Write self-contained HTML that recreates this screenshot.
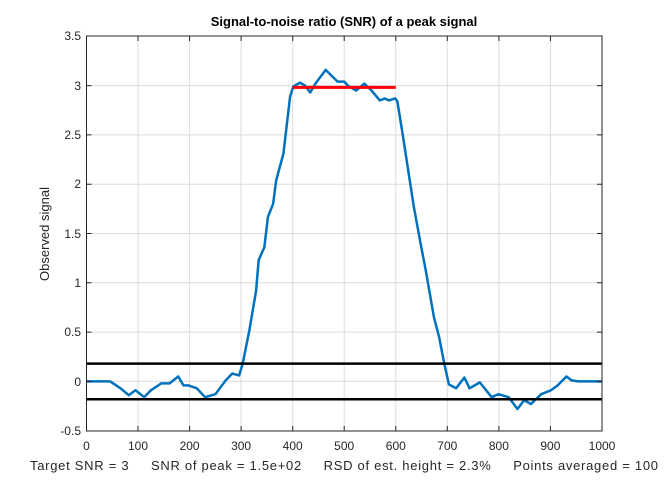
<!DOCTYPE html>
<html><head><style>body{margin:0;background:#fff}svg{display:block}</style></head><body>
<svg width="665" height="484" xmlns="http://www.w3.org/2000/svg" font-family="Liberation Sans, Arial, sans-serif">
<rect width="665" height="484" fill="#fff"/>
<g stroke="#dcdcdc" stroke-width="1">
<line x1="138" y1="36" x2="138" y2="431"/><line x1="189.6" y1="36" x2="189.6" y2="431"/><line x1="241.1" y1="36" x2="241.1" y2="431"/><line x1="292.7" y1="36" x2="292.7" y2="431"/><line x1="344.2" y1="36" x2="344.2" y2="431"/><line x1="395.8" y1="36" x2="395.8" y2="431"/><line x1="447.3" y1="36" x2="447.3" y2="431"/><line x1="498.9" y1="36" x2="498.9" y2="431"/><line x1="550.4" y1="36" x2="550.4" y2="431"/>
<line x1="86.5" y1="85.6" x2="602" y2="85.6"/><line x1="86.5" y1="134.9" x2="602" y2="134.9"/><line x1="86.5" y1="184.2" x2="602" y2="184.2"/><line x1="86.5" y1="233.5" x2="602" y2="233.5"/><line x1="86.5" y1="282.8" x2="602" y2="282.8"/><line x1="86.5" y1="332.1" x2="602" y2="332.1"/><line x1="86.5" y1="381.4" x2="602" y2="381.4"/>
</g>
<g transform="translate(86.5,381.4) scale(0.5155,-98.6)" fill="none" stroke-linejoin="round">
<polyline vector-effect="non-scaling-stroke" stroke="#0072bd" stroke-width="2.5" points="0,0 46,0 66,-0.07 82,-0.14 95,-0.09 112,-0.16 125,-0.09 145,-0.02 161,-0.02 178,0.05 188,-0.04 197,-0.04 214,-0.07 230,-0.16 250,-0.13 270,0.01 283,0.08 296,0.06 303,0.18 316,0.52 329,0.92 334,1.23 345,1.36 352,1.67 362,1.8 368,2.04 382,2.31 395,2.89 401,2.99 414,3.03 424,3 434,2.93 444,3.02 464,3.16 487,3.04 500,3.04 507,3 523,2.95 539,3.02 553,2.95 569,2.85 579,2.87 586,2.85 599,2.87 603,2.84 612,2.55 622,2.21 635,1.77 648,1.4 658,1.13 674,0.65 684,0.45 694,0.18 703,-0.03 717,-0.07 733,0.04 743,-0.07 763,-0.01 786,-0.16 799,-0.13 819,-0.16 836,-0.28 849,-0.19 862,-0.23 882,-0.13 901,-0.09 914,-0.04 931,0.05 941,0.01 954,0 1000,0"/>
</g>
<line x1="292.7" y1="87.4" x2="395.8" y2="87.4" stroke="#ff0000" stroke-width="3"/>
<line x1="86.5" y1="363.6" x2="602" y2="363.6" stroke="#000" stroke-width="2.5"/>
<line x1="86.5" y1="399.2" x2="602" y2="399.2" stroke="#000" stroke-width="2.5"/>
<rect x="86.5" y="36" width="515.5" height="395" fill="none" stroke="#262626" stroke-width="1"/>
<g stroke="#262626" stroke-width="1">
<path d="M138 431v-5M189.6 431v-5M241.1 431v-5M292.7 431v-5M344.2 431v-5M395.8 431v-5M447.3 431v-5M498.9 431v-5M550.4 431v-5M138 36v5M189.6 36v5M241.1 36v5M292.7 36v5M344.2 36v5M395.8 36v5M447.3 36v5M498.9 36v5M550.4 36v5"/>
<path d="M86.5 85.6h5M86.5 134.9h5M86.5 184.2h5M86.5 233.5h5M86.5 282.8h5M86.5 332.1h5M86.5 381.4h5M602 85.6h-5M602 134.9h-5M602 184.2h-5M602 233.5h-5M602 282.8h-5M602 332.1h-5M602 381.4h-5"/>
</g>
<g font-size="12" fill="#262626" text-anchor="middle">
<text x="86.5" y="450">0</text><text x="138" y="450">100</text><text x="189.6" y="450">200</text><text x="241.1" y="450">300</text><text x="292.7" y="450">400</text><text x="344.2" y="450">500</text><text x="395.8" y="450">600</text><text x="447.3" y="450">700</text><text x="498.9" y="450">800</text><text x="550.4" y="450">900</text><text x="602" y="450">1000</text>
</g>
<g font-size="12" fill="#262626" text-anchor="end">
<text x="81" y="40">3.5</text><text x="81" y="90">3</text><text x="81" y="139">2.5</text><text x="81" y="188">2</text><text x="81" y="238">1.5</text><text x="81" y="287">1</text><text x="81" y="336">0.5</text><text x="81" y="386">0</text><text x="81" y="435">-0.5</text>
</g>
<text x="344" y="26" font-size="13" font-weight="bold" text-anchor="middle" fill="#000">Signal-to-noise ratio (SNR) of a peak signal</text>
<text transform="translate(49,234) rotate(-90)" font-size="13" text-anchor="middle" fill="#262626">Observed signal</text>
<text x="30" y="470" font-size="13" fill="#262626" textLength="628" lengthAdjust="spacing" xml:space="preserve">Target SNR = 3     SNR of peak = 1.5e+02     RSD of est. height = 2.3%     Points averaged = 100</text>
</svg>
</body></html>
